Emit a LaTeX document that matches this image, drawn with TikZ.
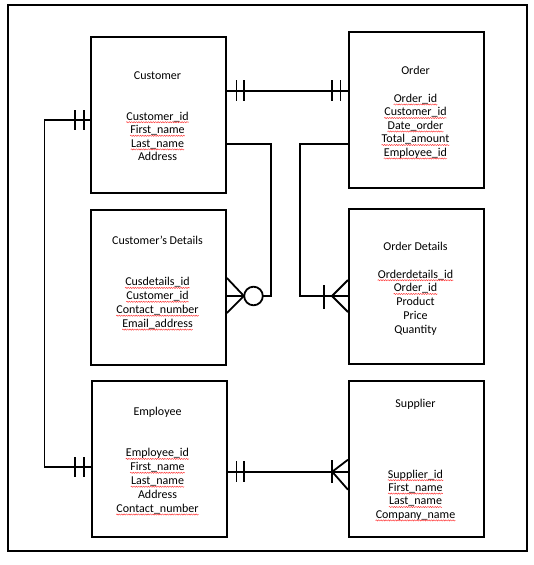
\documentclass[tikz,border=0pt]{standalone}
\usepackage{fontspec}
\setmainfont{Carlito}
\usetikzlibrary{shadows,decorations.pathmorphing}
\begin{document}
\begin{tikzpicture}[x=1pt,y=-1pt,
  ent/.style={draw, line width=1.8pt, minimum width=135pt, minimum height=156pt, inner sep=0pt},
  conn/.style={line width=1.8pt},
  txt/.style={anchor=base, inner sep=0pt, font=\fontsize{12}{14}\selectfont},
  sqline/.style={draw=red!80, line width=0.45pt, decorate, decoration={snake, amplitude=0.6pt, segment length=2.4pt}},
  frame/.style={draw, line width=1.8pt, minimum width=519pt, minimum height=546pt, fill=white,
    drop shadow={opacity=0.35, shadow xshift=1pt, shadow yshift=-1.2pt}}]
\useasboundingbox (0,0) rectangle (533,565);
\node[frame] (fr) at (267.5,278) {};
% entities
\node[ent] (cust) at (158.5,114.7) {};
\node[ent, minimum height=155.4pt] (order) at (416.4,110) {};
\node[ent, minimum height=155pt] (cdet) at (158.5,287.5) {};
\node[ent, minimum height=155pt] (odet) at (416.4,286.5) {};
\node[ent] (emp) at (159.6,458.7) {};
\node[ent] (sup) at (416.4,458.7) {};
% titles
\node[txt] (t1) at (157.5,79) {Customer};
\node[txt] (t2) at (415.5,74) {Order};
\node[txt] (t3) at (157.5,244) {Customer’s Details};
\node[txt] (t4) at (415.5,250.7) {Order Details};
\node[txt] (t5) at (157.5,415.7) {Employee};
\node[txt] (t6) at (415.5,407) {Supplier};
% attributes
\foreach \s/\f [count=\i] in {Customer\_id/1,First\_name/1,Last\_name/1,Address/0}{
  \node[txt] (ca\i) at (157.5,120+13.6*\i-13.6) {\s};
  \ifnum\f=1 \draw[sqline] ([yshift=-2.2pt]ca\i.base west) -- ([yshift=-2.2pt]ca\i.base east);\fi}
\foreach \s/\f [count=\i] in {Order\_id/1,Customer\_id/1,Date\_order/1,Total\_amount/1,Employee\_id/1}{
  \node[txt] (oa\i) at (415.5,102.3+13.5*\i-13.5) {\s};
  \ifnum\f=1 \draw[sqline] ([yshift=-2.2pt]oa\i.base west) -- ([yshift=-2.2pt]oa\i.base east);\fi}
\foreach \s/\f [count=\i] in {Cusdetails\_id/1,Customer\_id/1,Contact\_number/1,Email\_address/1}{
  \node[txt] (da\i) at (157.5,285.7+13.9*\i-13.9) {\s};
  \ifnum\f=1 \draw[sqline] ([yshift=-2.2pt]da\i.base west) -- ([yshift=-2.2pt]da\i.base east);\fi}
\foreach \s/\f [count=\i] in {Orderdetails\_id/1,Order\_id/1,Product/0,Price/0,Quantity/0}{
  \node[txt] (pa\i) at (415.5,278+13.75*\i-13.75) {\s};
  \ifnum\f=1 \draw[sqline] ([yshift=-2.2pt]pa\i.base west) -- ([yshift=-2.2pt]pa\i.base east);\fi}
\foreach \s/\f [count=\i] in {Employee\_id/1,First\_name/1,Last\_name/1,Address/0,Contact\_number/1}{
  \node[txt] (ea\i) at (157.5,456.7+13.9*\i-13.9) {\s};
  \ifnum\f=1 \draw[sqline] ([yshift=-2.2pt]ea\i.base west) -- ([yshift=-2.2pt]ea\i.base east);\fi}
\foreach \s/\f [count=\i] in {Supplier\_id/1,First\_name/1,Last\_name/1,Company\_name/1}{
  \node[txt] (sa\i) at (415.5,478+13.4*\i-13.4) {\s};
  \ifnum\f=1 \draw[sqline] ([yshift=-2.2pt]sa\i.base west) -- ([yshift=-2.2pt]sa\i.base east);\fi}
% reference lines
\coordinate (h1) at (0,90.7);
\coordinate (h2) at (0,144);
\coordinate (h3) at (0,120);
\coordinate (h4) at (0,296);
\coordinate (h5) at (0,467.3);
\coordinate (h6) at (0,471.7);
\coordinate (v1) at (271,0);
\coordinate (v2) at (300,0);
\coordinate (v3) at (44.4,0);
% Customer -- Order
\draw[conn] (cust.east |- h1) coordinate (a1) -- (order.west |- h1) coordinate (a2);
\draw[conn] ([xshift=9.5pt]a1) ++(0,-10.5) -- ++(0,21);
\draw[conn] ([xshift=17pt]a1) ++(0,-10.5) -- ++(0,21);
\draw[conn] ([xshift=-16pt]a2) ++(0,-10.5) -- ++(0,21);
\draw[conn] ([xshift=-7.5pt]a2) ++(0,-10.5) -- ++(0,21);
% Customer -- Customer's Details
\draw[conn] (cust.east |- h2) -- (v1 |- h2) -- (v1 |- h4) -- (cdet.east |- h4) coordinate (b1);
\draw[conn] ([yshift=18pt]b1) -- ([xshift=17pt]b1) -- ([yshift=-17pt]b1);
\draw[conn, fill=white] ([xshift=26.6pt]b1) circle[radius=9.3pt];
% Order -- Order Details
\draw[conn] (order.west |- h2) -- (v2 |- h2) -- (v2 |- h4) -- (odet.west |- h4) coordinate (b2);
\draw[conn] ([xshift=-24pt]b2) ++(0,-11) -- ++(0,24);
\draw[conn] ([yshift=16pt]b2) -- ([xshift=-16pt]b2) -- ([yshift=-16pt]b2);
% Customer -- Employee
\draw[conn] (cust.west |- h3) coordinate (c1) -- (v3 |- h3) -- (v3 |- h5) -- (emp.west |- h5) coordinate (c2);
\draw[conn] ([xshift=-15.3pt]c1) ++(0,-10) -- ++(0,20);
\draw[conn] ([xshift=-5.8pt]c1) ++(0,-10) -- ++(0,20);
\draw[conn] ([xshift=-16.4pt]c2) ++(0,-10) -- ++(0,20);
\draw[conn] ([xshift=-7pt]c2) ++(0,-10) -- ++(0,20);
% Employee -- Supplier
\draw[conn] (emp.east |- h6) coordinate (d1) -- (sup.west |- h6) coordinate (d2);
\draw[conn] ([xshift=8.5pt]d1) ++(0,-10.5) -- ++(0,21);
\draw[conn] ([xshift=16pt]d1) ++(0,-10.5) -- ++(0,21);
\draw[conn] ([xshift=-15.8pt]d2) ++(0,-11.5) -- ++(0,23);
\draw[conn] ([yshift=12pt]d2) -- ([xshift=-15.8pt]d2) -- ([yshift=-18pt]d2);
\end{tikzpicture}
\end{document}
